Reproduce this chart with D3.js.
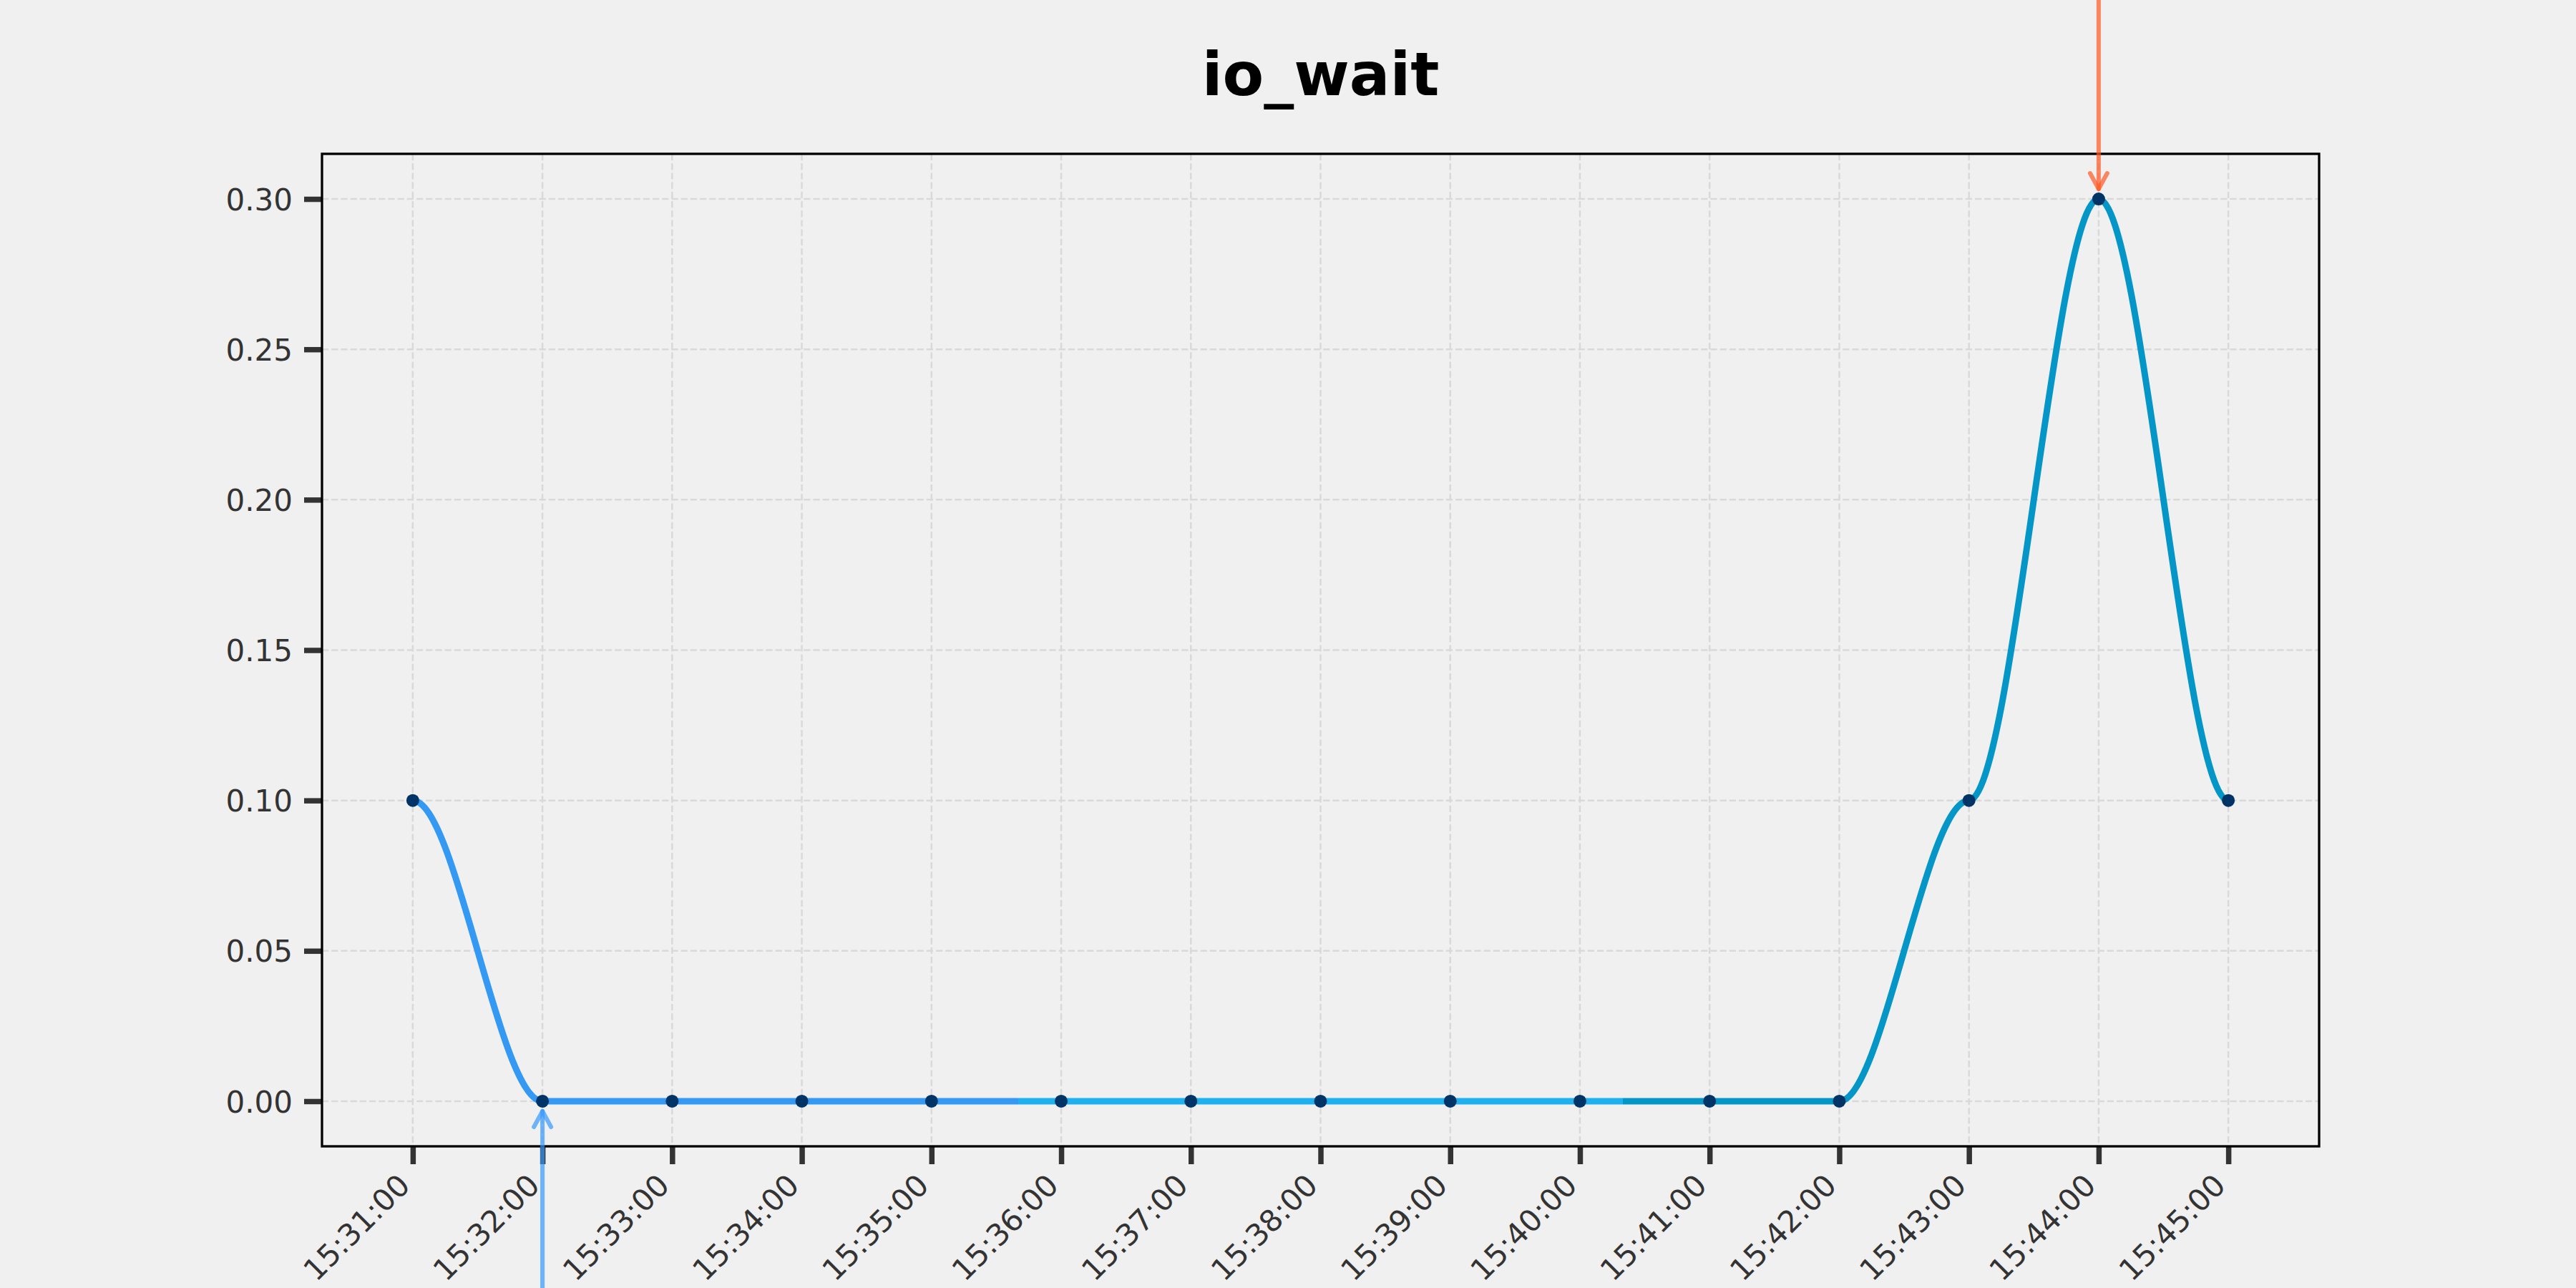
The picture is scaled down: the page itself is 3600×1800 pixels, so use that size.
<!DOCTYPE html>
<html>
<head>
<meta charset="utf-8">
<script src="https://cdn.jsdelivr.net/npm/d3@7"></script>
<style>
  html, body { margin: 0; padding: 0; background: #f0f0f0; }
  svg { display: block; }
</style>
</head>
<body>
<svg id="chart" width="3600" height="1800"></svg>
<script>
// ---- data ----
const timeLabels = ["15:31:00","15:32:00","15:33:00","15:34:00","15:35:00","15:36:00","15:37:00","15:38:00",
                    "15:39:00","15:40:00","15:41:00","15:42:00","15:43:00","15:44:00","15:45:00"];
const values = [0.10, 0.00, 0.00, 0.00, 0.00, 0.00, 0.00, 0.00, 0.00, 0.00, 0.00, 0.00, 0.10, 0.30, 0.10];
const yTicks = [0.00, 0.05, 0.10, 0.15, 0.20, 0.25, 0.30];
const titleText = "io_wait";
const segmentColors = ["#3399f3", "#1fb0f0", "#0596c8"];
const maxIndex = 13;   // annotated peak (15:44:00)
const minIndex = 1;    // annotated minimum (15:32:00)

// ---- layout ----
const W = 3600, H = 1800;
const plot = { left: 450, right: 3241, top: 215, bottom: 1602 };
const bg = "#f0f0f0";

// eased (zero-tangent cubic Hermite) curve for d3.line
function CurveEase(context) { this._context = context; }
CurveEase.prototype = {
  areaStart() { this._line = 0; },
  areaEnd() { this._line = NaN; },
  lineStart() { this._point = 0; },
  lineEnd() {
    if (this._line || (this._line !== 0 && this._point === 1)) this._context.closePath();
    this._line = 1 - this._line;
  },
  point(px, py) {
    px = +px; py = +py;
    if (this._point === 0) {
      this._point = 1;
      this._line ? this._context.lineTo(px, py) : this._context.moveTo(px, py);
    } else {
      this._point = 2;
      const dx = (px - this._x0) / 3;
      this._context.bezierCurveTo(this._x0 + dx, this._y0, px - dx, py, px, py);
    }
    this._x0 = px; this._y0 = py;
  }
};
const curveEase = ctx => new CurveEase(ctx);

const parse = s => { const [h, m, sec] = s.split(":").map(Number); return new Date(2024, 0, 1, h, m, sec); };
const times = timeLabels.map(parse);
const data = times.map((t, i) => ({ t, v: values[i] }));

const svg = d3.select("#chart");
svg.append("rect").attr("width", W).attr("height", H).attr("fill", bg);

// scales with 5% margins
const tMin = +times[0], tMax = +times[times.length - 1];
const tPad = (tMax - tMin) * 0.05;
const x = d3.scaleTime()
  .domain([new Date(tMin - tPad), new Date(tMax + tPad)])
  .range([plot.left, plot.right]);
const vMin = d3.min(values), vMax = d3.max(values);
const vPad = (vMax - vMin) * 0.05;
const y = d3.scaleLinear()
  .domain([vMin - vPad, vMax + vPad])
  .range([plot.bottom, plot.top]);

// grid
const grid = svg.append("g");
grid.selectAll("line.gx").data(times).join("line")
  .attr("x1", d => x(d)).attr("x2", d => x(d))
  .attr("y1", plot.top).attr("y2", plot.bottom)
  .attr("stroke", "#d9d9d9").attr("stroke-width", 2.5).attr("stroke-dasharray", "9.2,4");
grid.selectAll("line.gy").data(yTicks).join("line")
  .attr("x1", plot.left).attr("x2", plot.right)
  .attr("y1", d => y(d)).attr("y2", d => y(d))
  .attr("stroke", "#d9d9d9").attr("stroke-width", 2.5).attr("stroke-dasharray", "9.2,4");

// axes
const fmt = d3.timeFormat("%H:%M:%S");
const xAxis = svg.append("g")
  .attr("transform", `translate(0,${plot.bottom})`)
  .call(d3.axisBottom(x).tickValues(times).tickFormat(fmt).tickSize(25).tickPadding(0));
xAxis.select(".domain").remove();
xAxis.selectAll(".tick line").attr("stroke", "#333").attr("stroke-width", 7.5);
xAxis.selectAll(".tick text")
  .attr("font-family", "DejaVu Sans").attr("font-size", 42).attr("fill", "#333")
  .attr("text-anchor", "end")
  .attr("dy", null).attr("y", null)
  .attr("transform", "translate(-2,57) rotate(-45)");

const yAxis = svg.append("g")
  .attr("transform", `translate(${plot.left},0)`)
  .call(d3.axisLeft(y).tickValues(yTicks).tickFormat(d3.format(".2f")).tickSize(25).tickPadding(16));
yAxis.select(".domain").remove();
yAxis.selectAll(".tick line").attr("stroke", "#333").attr("stroke-width", 7.5);
yAxis.selectAll(".tick text")
  .attr("font-family", "DejaVu Sans").attr("font-size", 42).attr("fill", "#333")
  .attr("dy", "0.36em");

// frame
svg.append("rect")
  .attr("x", plot.left).attr("y", plot.top)
  .attr("width", plot.right - plot.left).attr("height", plot.bottom - plot.top)
  .attr("fill", "none").attr("stroke", "#000").attr("stroke-width", 3.3);

// gradient for the line (three colour segments)
const defs = svg.append("defs");
const x0 = x(times[0]), x1 = x(times[times.length - 1]);
const grad = defs.append("linearGradient").attr("id", "lineGrad")
  .attr("gradientUnits", "userSpaceOnUse")
  .attr("x1", x0).attr("x2", x1).attr("y1", 0).attr("y2", 0);
segmentColors.forEach((c, i) => {
  grad.append("stop").attr("offset", i / segmentColors.length).attr("stop-color", c);
  grad.append("stop").attr("offset", (i + 1) / segmentColors.length).attr("stop-color", c);
});

const line = d3.line().x(d => x(d.t)).y(d => y(d.v)).curve(curveEase);
svg.append("path").datum(data)
  .attr("d", line)
  .attr("fill", "none").attr("stroke", "url(#lineGrad)")
  .attr("stroke-width", 9).attr("stroke-linejoin", "round").attr("stroke-linecap", "round");

// points
svg.selectAll("circle.pt").data(data).join("circle")
  .attr("cx", d => x(d.t)).attr("cy", d => y(d.v)).attr("r", 9)
  .attr("fill", "#003366");

// annotation arrows
function arrow(px, py, fromY, color, dir) {
  // dir = +1 pointing down (from above), -1 pointing up (from below)
  const gap = 14;
  const tipY = py - dir * gap;
  const g = svg.append("g").attr("stroke", color).attr("stroke-opacity", 0.7)
    .attr("stroke-width", 6).attr("stroke-linecap", "round").attr("fill", "none");
  g.append("line").attr("x1", px).attr("x2", px).attr("y1", fromY).attr("y2", tipY);
  g.append("path").attr("d", `M${px - 12},${tipY - dir * 22} L${px},${tipY} L${px + 12},${tipY - dir * 22}`)
    .attr("stroke-linejoin", "round");
}
arrow(x(times[maxIndex]), y(values[maxIndex]), -20, "#ff5722", 1);
arrow(x(times[minIndex]), y(values[minIndex]), H + 20, "#3399ff", -1);

// title
svg.append("text")
  .attr("x", (plot.left + plot.right) / 2).attr("y", 133)
  .attr("text-anchor", "middle")
  .attr("font-family", "DejaVu Sans").attr("font-weight", "bold").attr("font-size", 84)
  .attr("fill", "#000")
  .text(titleText);
</script>
</body>
</html>
